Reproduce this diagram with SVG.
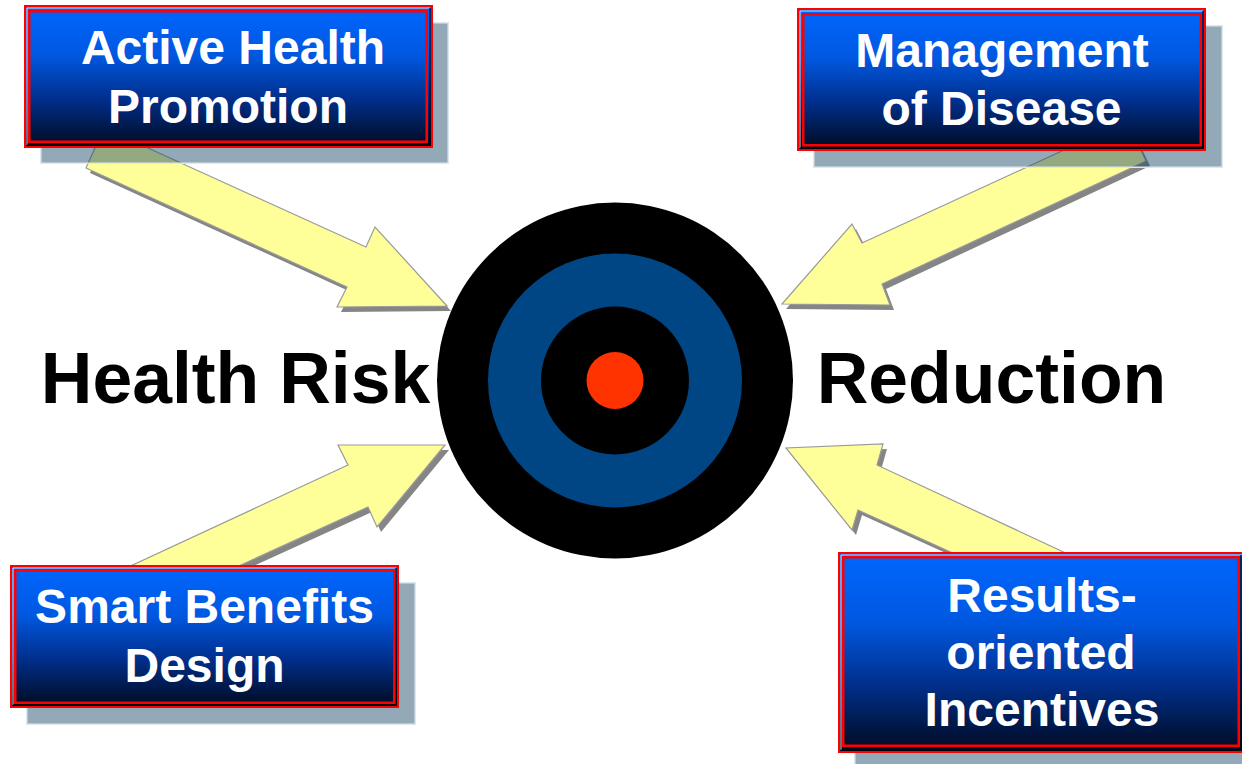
<svg xmlns="http://www.w3.org/2000/svg" width="1242" height="764" viewBox="0 0 1242 764">
  <defs>
    <linearGradient id="boxfill" x1="0" y1="0" x2="0" y2="1">
      <stop offset="0" stop-color="#0066ff"/>
      <stop offset="0.35" stop-color="#0058e0"/>
      <stop offset="0.65" stop-color="#00308f"/>
      <stop offset="1" stop-color="#000a1e"/>
    </linearGradient>
    <polygon id="a1" points="104,128 366,247 375,227 447,306 337,307 347,287 86,168"/>
    <polygon id="a2" points="1127,121 862,243 852,224 782,304 890,305 882,284 1146,161"/>
    <polygon id="a3" points="40,608 348,465 338,445 445,445 377,527 368,507 59,648"/>
    <polygon id="a4" points="1190,611 877,465 883,444 786,448 852,530 858,510 1171,652"/>
  </defs>
  <style>
    .ashadow { fill: #858585; }
    .arrow { fill: #ffff99; stroke: #9a9a9a; stroke-width: 1.2; }
    .shadowbox { fill: #1c4868; fill-opacity: 0.47; stroke: #dfe7ee; stroke-width: 1.5; }
    .box { fill: url(#boxfill); stroke: #ff0000; stroke-width: 2; }
    .inner { fill: none; stroke: #ff0000; stroke-width: 2.5; }
    .hl { fill: none; stroke: #ffffff; stroke-width: 1; opacity: 0.8; }
    .dk { fill: none; stroke: #000000; stroke-width: 1.2; }
    .lbl { font-family: "Liberation Sans", Arial, sans-serif; font-weight: bold; font-size: 48px; fill: #ffffff; text-anchor: middle; }
    .big { font-family: "Liberation Sans", Arial, sans-serif; font-weight: bold; font-size: 71.5px; fill: #000000; text-anchor: middle; }
  </style>

  <rect width="1242" height="764" fill="#ffffff"/>

  <g id="connectors">
    <use href="#a1" class="ashadow" transform="translate(4,5)"/>
    <use href="#a2" class="ashadow" transform="translate(4,5)"/>
    <use href="#a3" class="ashadow" transform="translate(4,5)"/>
    <use href="#a4" class="ashadow" transform="translate(4,5)"/>
    <use href="#a1" class="arrow"/>
    <use href="#a2" class="arrow"/>
    <use href="#a3" class="arrow"/>
    <use href="#a4" class="arrow"/>
  </g>

  <g id="target">
    <circle cx="615" cy="380.5" r="178" fill="#000000"/>
    <circle cx="615" cy="380.5" r="127" fill="#004684"/>
    <circle cx="615" cy="380.5" r="74" fill="#000000"/>
    <circle cx="615" cy="380.5" r="28.5" fill="#ff3300"/>
  </g>

  <g id="title">
    <text class="big" x="235.5" y="403">Health Risk</text>
    <text class="big" x="991.5" y="403">Reduction</text>
  </g>

  <g id="box-active-health-promotion">
    <rect class="shadowbox" x="40.75" y="22.75" width="407.5" height="140.5"/>
    <rect class="box" x="25" y="6" width="407" height="141"/>
    <path class="hl" d="M27,145 V8 H430"/>
    <path class="dk" d="M430,8 V145 H27"/>
    <rect class="inner" x="29.25" y="11.25" width="397.5" height="130.5"/>
    <text class="lbl" x="233" y="64">Active Health</text>
    <text class="lbl" x="228" y="123">Promotion</text>
  </g>

  <g id="box-management-of-disease">
    <rect class="shadowbox" x="813.75" y="25.75" width="408.5" height="141.5"/>
    <rect class="box" x="798" y="9" width="407" height="141"/>
    <path class="hl" d="M800,148 V11 H1203"/>
    <path class="dk" d="M1203,11 V148 H800"/>
    <rect class="inner" x="803.25" y="14.25" width="397.5" height="131"/>
    <text class="lbl" x="1002" y="67">Management</text>
    <text class="lbl" x="1001.5" y="125">of Disease</text>
  </g>

  <g id="box-smart-benefits-design">
    <rect class="shadowbox" x="26.75" y="582.75" width="388.5" height="141.5"/>
    <rect class="box" x="11" y="566" width="387" height="141"/>
    <path class="hl" d="M13,705 V568 H396"/>
    <path class="dk" d="M396,568 V705 H13"/>
    <rect class="inner" x="15.25" y="570.25" width="379" height="132.5"/>
    <text class="lbl" x="204.5" y="623">Smart Benefits</text>
    <text class="lbl" x="204.5" y="682">Design</text>
  </g>

  <g id="box-results-oriented-incentives">
    <rect class="shadowbox" x="854.75" y="569.75" width="410" height="210"/>
    <rect class="box" x="839" y="553" width="410" height="199"/>
    <path class="hl" d="M841,750 V555 H1248"/>
    <path class="dk" d="M1241,555 V750 H841"/>
    <rect class="inner" x="843.25" y="557.25" width="395.5" height="188.5"/>
    <text class="lbl" x="1042" y="612">Results-</text>
    <text class="lbl" x="1041" y="669">oriented</text>
    <text class="lbl" x="1042" y="726">Incentives</text>
  </g>
</svg>
